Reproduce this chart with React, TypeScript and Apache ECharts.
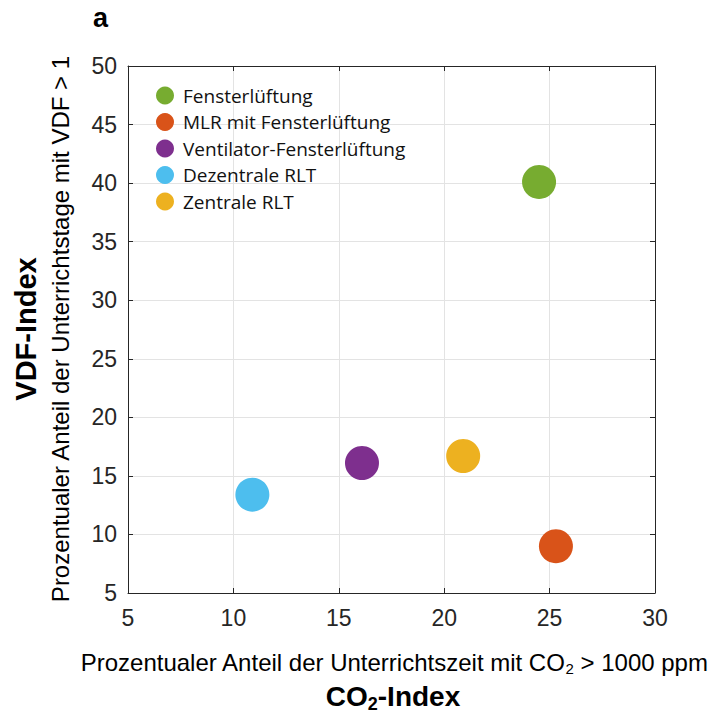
import React, { useEffect, useRef } from "react";
import * as echarts from "echarts";

const seriesNames = [
  "Fensterlüftung",
  "MLR mit Fensterlüftung",
  "Ventilator-Fensterlüftung",
  "Dezentrale RLT",
  "Zentrale RLT",
];
const co2Index = [24.5, 25.3, 16.1, 10.9, 20.9];
const vdfIndex = [40.1, 9.0, 16.1, 13.4, 16.7];
const colors = ["#77AC30", "#D95319", "#7E2F8E", "#4DBEEE", "#EDB120"];

const axisColor = "#262626";
const tickFont = "'Liberation Sans', Arial, sans-serif";

export default function App() {
  const ref = useRef<HTMLDivElement>(null);
  useEffect(() => {
    if (!ref.current) return;
    const chart = echarts.init(ref.current, undefined, { renderer: "svg" });
    const grid = { left: 128, right: 58, top: 66, bottom: 125 };
    const xBase = {
      type: "value" as const,
      min: 5,
      max: 30,
      interval: 5,
      axisLine: { show: true, onZero: false, lineStyle: { color: axisColor, width: 1 } },
      axisTick: { show: true, inside: true, length: 5, lineStyle: { color: axisColor } },
    };
    const yBase = {
      type: "value" as const,
      min: 5,
      max: 50,
      interval: 5,
      axisLine: { show: true, onZero: false, lineStyle: { color: axisColor, width: 1 } },
      axisTick: { show: true, inside: true, length: 5, lineStyle: { color: axisColor } },
    };
    chart.setOption({
      animation: false,
      grid,
      xAxis: [
        {
          ...xBase,
          position: "bottom",
          axisLabel: { color: axisColor, fontSize: 23, fontFamily: tickFont, margin: 13 },
          splitLine: { show: true, lineStyle: { color: "#e3e3e3", width: 1 } },
        },
        {
          ...xBase,
          position: "top",
          axisLabel: { show: false },
          splitLine: { show: false },
        },
      ],
      yAxis: [
        {
          ...yBase,
          position: "left",
          axisLabel: { color: axisColor, fontSize: 23, fontFamily: tickFont, margin: 11 },
          splitLine: { show: true, lineStyle: { color: "#e3e3e3", width: 1 } },
        },
        {
          ...yBase,
          position: "right",
          axisLabel: { show: false },
          splitLine: { show: false },
        },
      ],
      legend: {
        orient: "vertical",
        left: 151,
        top: 81,
        icon: "circle",
        itemWidth: 18,
        itemHeight: 18,
        itemGap: 7.5,
        textStyle: {
          fontSize: 19,
          lineHeight: 18,
          color: "#111",
          fontFamily: "'Open Sans', 'Noto Sans', sans-serif",
          padding: [0, 0, 0, 4],
        },
        data: seriesNames,
      },
      series: seriesNames.map((name, i) => ({
        name,
        type: "scatter",
        symbolSize: 34,
        itemStyle: { color: colors[i], opacity: 1 },
        data: [[co2Index[i], vdfIndex[i]]],
      })),
      graphic: [
        {
          type: "text",
          x: 93,
          y: 18,
          style: {
            text: "a",
            fontSize: 27,
            fontWeight: "bold",
            fill: "#000",
            fontFamily: tickFont,
            verticalAlign: "middle",
          },
        },
        {
          type: "text",
          x: 26,
          y: 329,
          rotation: Math.PI / 2,
          style: {
            text: "VDF-Index",
            fontSize: 29,
            fontWeight: "bold",
            fill: "#000",
            fontFamily: tickFont,
            align: "center",
            verticalAlign: "middle",
          },
        },
        {
          type: "text",
          x: 60,
          y: 329,
          rotation: Math.PI / 2,
          style: {
            text: "Prozentualer Anteil der Unterrichtstage mit VDF > 1",
            fontSize: 24,
            fill: "#000",
            fontFamily: tickFont,
            align: "center",
            verticalAlign: "middle",
          },
        },
        {
          type: "text",
          x: 394,
          y: 662,
          style: {
            text: "{m|Prozentualer Anteil der Unterrichtszeit mit CO}{s|2}{m| > 1000 ppm}",
            align: "center",
            verticalAlign: "middle",
            rich: {
              m: { fontSize: 24, color: "#000", fontFamily: tickFont, lineHeight: 28 },
              s: { fontSize: 15, color: "#000", fontFamily: tickFont, lineHeight: 15, verticalAlign: "bottom" },
            },
          },
        },
        {
          type: "text",
          x: 393,
          y: 696,
          style: {
            text: "{m|CO}{s|2}{m|-Index}",
            align: "center",
            verticalAlign: "middle",
            rich: {
              m: { fontSize: 28, fontWeight: "bold", color: "#000", fontFamily: tickFont, lineHeight: 34 },
              s: { fontSize: 18, fontWeight: "bold", color: "#000", fontFamily: tickFont, lineHeight: 18, verticalAlign: "bottom" },
            },
          },
        },
      ],
    });
    return () => chart.dispose();
  }, []);
  return <div ref={ref} style={{ width: 713, height: 718, position: "absolute", left: 0, top: 0 }} />;
}
